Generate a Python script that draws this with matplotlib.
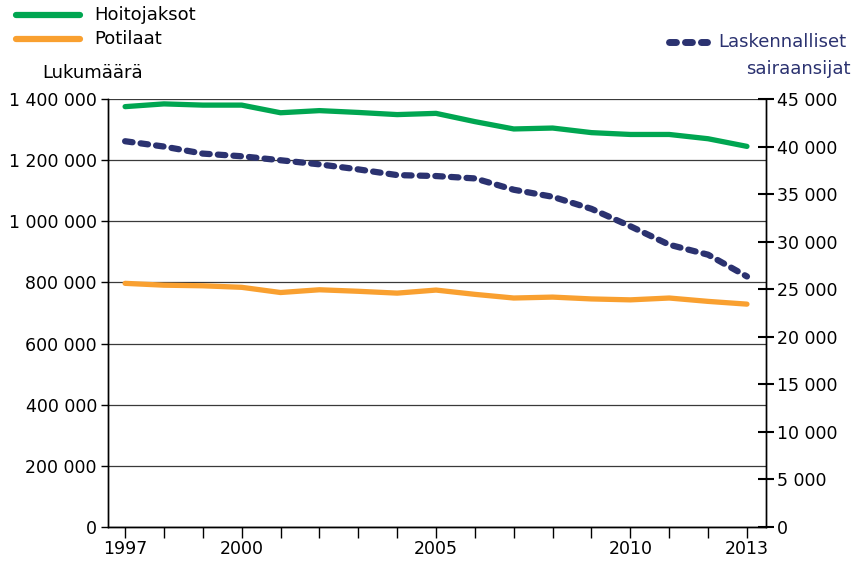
import matplotlib.pyplot as plt
import matplotlib.ticker as mticker

# data
years = list(range(1997, 2014))
hoitojaksot = [1375000, 1384000, 1380000, 1380000, 1355000, 1362000, 1356000, 1349000, 1353000,
               1326000, 1302000, 1305000, 1290000, 1284000, 1284000, 1270000, 1245000]
potilaat = [797000, 791000, 789000, 784000, 767000, 776000, 771000, 765000, 775000,
            761000, 749000, 752000, 746000, 743000, 749000, 738000, 729000]
sairaansijat = [40560, 40000, 39260, 38980, 38560, 38130, 37600, 37000, 36900,
                36650, 35460, 34720, 33450, 31620, 29680, 28630, 26340]
year_labels = [1997, 2000, 2005, 2010, 2013]

green = '#00A651'
orange = '#F9A030'
navy = '#2B3270'

plt.rcParams['font.family'] = ['DejaVu Sans']
plt.rcParams['font.size'] = 13

fig = plt.figure(figsize=(8.55, 5.64), dpi=100)
ax = fig.add_axes([108/855, 1 - 527/564, (766-108)/855, (527-99)/564])
ax2 = ax.twinx()

ax.plot(years, hoitojaksot, color=green, lw=3.8, solid_capstyle='round', zorder=3)
ax.plot(years, potilaat, color=orange, lw=3.8, solid_capstyle='round', zorder=3)
ax2.plot(years, sairaansijat, color=navy, lw=4.5, linestyle=(0, (1.2, 1.3)),
         dash_capstyle='round')

ax.set_xlim(1996.56, 2013.49)
ax.set_ylim(0, 1400000)
ax2.set_ylim(0, 45000)

fmt = mticker.FuncFormatter(lambda v, p: f'{int(v):,}'.replace(',', ' '))
ax.yaxis.set_major_locator(mticker.MultipleLocator(200000))
ax.yaxis.set_major_formatter(fmt)
ax2.yaxis.set_major_locator(mticker.MultipleLocator(5000))
ax2.yaxis.set_major_formatter(fmt)

ax.set_xticks(years)
ax.set_xticklabels([str(y) if y in year_labels else '' for y in years])
ax.tick_params(axis='x', length=8, width=1, pad=1, labelsize=12.5)
ax.tick_params(axis='y', length=5, width=1, pad=3, labelsize=12.5)
ax2.tick_params(axis='y', direction='inout', length=12, width=1.5, pad=2, labelsize=12.5)

ax.grid(axis='y', color='#3a3a3a', lw=0.9)
ax.set_axisbelow(True)
for a in (ax, ax2):
    for s in a.spines.values():
        s.set_linewidth(1)
        s.set_color('black')
ax.spines['top'].set_visible(False)
ax2.spines['top'].set_visible(False)

# legends / labels drawn as figure elements
fig.add_artist(plt.Line2D([16/855, 80/855], [1 - 15/564] * 2, color=green, lw=4.5,
                          solid_capstyle='round'))
fig.text(94/855, 1 - 15/564, 'Hoitojaksot', va='center', ha='left')
fig.add_artist(plt.Line2D([16/855, 80/855], [1 - 39/564] * 2, color=orange, lw=4.5,
                          solid_capstyle='round'))
fig.text(94/855, 1 - 39/564, 'Potilaat', va='center', ha='left')
fig.text(42/855, 1 - 73/564, 'Lukumäärä', va='center', ha='left')

fig.add_artist(plt.Line2D([669/855, 707/855], [1 - 42/564] * 2, color=navy, lw=5,
                          linestyle=(0, (1.0, 1.3)), dash_capstyle='round'))
fig.text(846/855, 1 - 42/564, 'Laskennalliset', va='center', ha='right', color=navy)
fig.text(851/855, 1 - 69/564, 'sairaansijat', va='center', ha='right', color=navy)

fig.savefig('out.png', dpi=100)
